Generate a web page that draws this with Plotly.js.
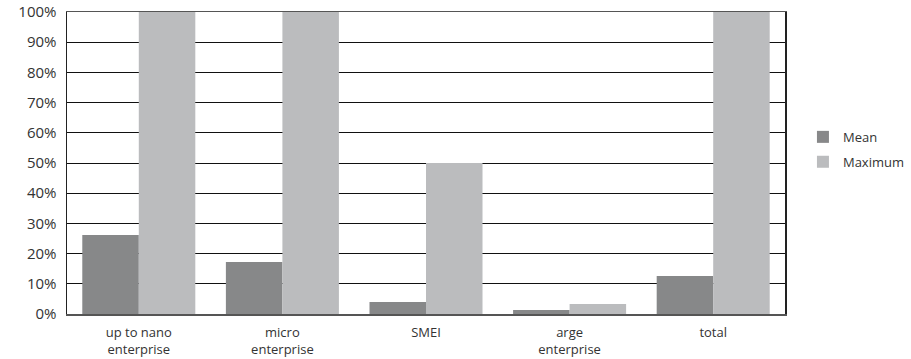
<!DOCTYPE html>
<html>
<head>
<meta charset="utf-8">
<script src="https://cdn.plot.ly/plotly-3.0.1.min.js"></script>
<style>
  html, body { margin: 0; padding: 0; background: #fff; }
  #chart { width: 911px; height: 359px; }
</style>
</head>
<body>
<div id="chart"></div>
<script>
// Enterprise size classes shown along the x axis
const categories = ["up to nano<br>enterprise", "micro<br>enterprise", "SMEI", "arge<br>enterprise", "total"];
// Shares per class (fractions of 1)
const meanValues = [0.262, 0.172, 0.040, 0.013, 0.126];
const maxValues = [1.00, 1.00, 0.50, 0.033, 1.00];
const yTickValues = [0, 0.1, 0.2, 0.3, 0.4, 0.5, 0.6, 0.7, 0.8, 0.9, 1.0];
const yTickLabels = ["0%", "10%", "20%", "30%", "40%", "50%", "60%", "70%", "80%", "90%", "100%"];

const font = "'Open Sans', 'DejaVu Sans', sans-serif";

const traces = [
  { type: "bar", name: "Mean", x: categories, y: meanValues, legendgroup: "mean",
    marker: { color: "#878889", line: { width: 0 } }, hoverinfo: "skip" },
  { type: "bar", name: "Maximum", x: categories, y: maxValues, legendgroup: "max",
    marker: { color: "#bbbcbe", line: { width: 0 } }, hoverinfo: "skip" }
];

const layout = {
  width: 911, height: 359,
  margin: { l: 67, r: 126, t: 12, b: 45, pad: 0, autoexpand: false },
  paper_bgcolor: "#fff", plot_bgcolor: "#fff",
  font: { family: font, color: "#222", size: 13 },
  barmode: "group", bargap: 0.213, bargroupgap: 0,
  showlegend: true,
  legend: { x: 1.025, xref: "paper", y: 0.545, xanchor: "left", yanchor: "middle",
    font: { family: font, size: 13, color: "#333" },
    traceorder: "grouped", tracegroupgap: 5,
    itemwidth: 30, bgcolor: "rgba(0,0,0,0)" },
  xaxis: {
    showgrid: false, zeroline: false, showline: true, linecolor: "#555", linewidth: 1.5,
    mirror: true, ticks: "", ticklabelstandoff: 6,
    tickfont: { family: font, size: 13, color: "#333" },
    fixedrange: true
  },
  yaxis: {
    range: [0, 1], tickvals: yTickValues, ticktext: yTickLabels,
    showgrid: true, gridcolor: "#111", gridwidth: 1,
    zeroline: false, showline: true, linecolor: "#222", linewidth: 1.5, mirror: true,
    ticks: "", ticklabelstandoff: 6,
    tickfont: { family: font, size: 15, color: "#333" },
    fixedrange: true
  }
};

Plotly.newPlot("chart", traces, layout, { staticPlot: true, displayModeBar: false });
</script>
</body>
</html>
